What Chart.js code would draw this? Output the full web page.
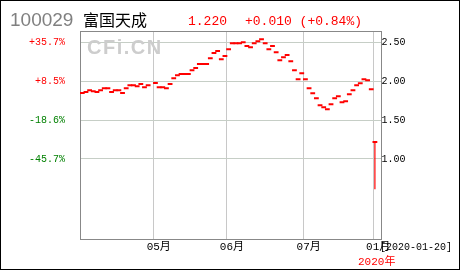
<!DOCTYPE html>
<html lang="zh">
<head>
  <meta charset="UTF-8" />
  <title>100029 富国天成</title>
  <script src="https://cdn.jsdelivr.net/npm/chart.js"></script>
  <style>
    body {
      margin: 0;
      padding: 0;
      background: #fff;
    }
    #wrap {
      width: 460px;
      height: 270px;
    }
  </style>
</head>
<body>
  <div id="wrap">
    <canvas id="navChart" width="460" height="270"></canvas>
  </div>

  <script>
    // daily NAV, one slot per trading day (null = no quote)
    const navClose = [
      1.851, 1.864, 1.886, 1.873, 1.864, 1.886, 1.912, 1.912, 1.864, 1.886,
      1.886, 1.851, 1.912, 1.951, 1.951, 1.938, 1.967, 1.925, 1.951, null,
      1.980, 1.925, 1.925, 1.912, 1.967, 2.041, 2.080, 2.096, 2.096, 2.096,
      2.144, 2.174, 2.225, 2.225, 2.225, 2.299, 2.367, 2.393, 2.286, 2.329,
      2.415, 2.492, 2.492, 2.492, 2.505, 2.457, 2.441, 2.492, 2.518, 2.544,
      2.492, 2.415, 2.457, 2.376, 2.273, 2.312, 2.341, 2.260, 2.144, 2.028,
      2.105, 2.028, 1.912, 1.847, 1.783, 1.693, 1.667, 1.641, 1.706, 1.783,
      1.809, 1.731, 1.744, 1.835, 1.886, 1.951, 1.976, 2.028, 2.015, 1.899,
      1.220
    ];
    // last day range (low to close)
    const wickLow = 0.61;
    const wickHigh = 1.22;

    const monthStarts = [19.5, 39.5, 60.5, 79.5];
    const monthLabels = ['05月', '06月', '07月', '01月'];
    const priceTicks = [1.0, 1.5, 2.0, 2.5];
    const pctLabels = ['-45.7%', '-18.6%', '+8.5%', '+35.7%'];
    const pctColors = ['#008000', '#008000', '#ff0000', '#ff0000'];

    const monoFont = "'Liberation Mono', 'Noto Sans CJK SC', monospace";
    const lastIdx = navClose.length - 1;

    const closePoints = [];
    navClose.forEach((v, i) => {
      if (v !== null) closePoints.push({ x: i, y: v });
    });

    const extras = {
      id: 'extras',
      beforeDatasetsDraw(chart) {
        const ctx = chart.ctx;
        const a = chart.chartArea;
        ctx.save();
        // watermark
        ctx.font = "bold 20px 'Liberation Sans', Arial, sans-serif";
        ctx.letterSpacing = '1.5px';
        ctx.fillStyle = '#cdcdcd';
        ctx.textBaseline = 'alphabetic';
        ctx.fillText('CFi.CN', 87, 53.5);
        ctx.letterSpacing = '0px';
        // plot frame
        ctx.strokeStyle = '#888';
        ctx.lineWidth = 1;
        ctx.strokeRect(Math.round(a.left) + 0.5, Math.round(a.top) + 0.5,
          Math.round(a.right - a.left), Math.round(a.bottom - a.top));
        ctx.restore();
      },
      afterDraw(chart) {
        const ctx = chart.ctx;
        ctx.save();
        ctx.textBaseline = 'alphabetic';
        ctx.font = "19px 'Liberation Sans', Arial, sans-serif";
        ctx.fillStyle = '#808080';
        ctx.fillText('100029', 10, 26);
        ctx.font = "16px 'Noto Sans CJK SC', sans-serif";
        ctx.fillStyle = '#000';
        ctx.fillText('富国天成', 83, 26);
        ctx.font = '13px ' + monoFont;
        ctx.fillStyle = '#ff0000';
        ctx.fillText('1.220', 188, 25);
        ctx.fillText('+0.010 (+0.84%)', 245, 25);
        // date + year under the axis
        ctx.font = '10px ' + monoFont;
        ctx.fillStyle = '#000';
        ctx.fillText('[2020-01-20]', 380, 250);
        ctx.font = '11px ' + monoFont;
        ctx.fillStyle = '#ff0000';
        ctx.fillText('2020年', 358, 265);
        // outer border
        ctx.strokeStyle = '#000';
        ctx.strokeRect(0.5, 0.5, 459, 269);
        ctx.restore();
      }
    };

    const yMin = -0.032;
    const yMax = 2.651;

    new Chart(document.getElementById('navChart'), {
      type: 'line',
      data: {
        datasets: [
          {
            data: closePoints,
            showLine: false,
            pointStyle: 'line',
            pointRadius: 2.4,
            pointHoverRadius: 2.4,
            pointBorderWidth: 2,
            pointBorderColor: '#ff0000',
            borderColor: '#ff0000'
          },
          {
            data: [{ x: lastIdx, y: wickLow }, { x: lastIdx, y: wickHigh }],
            borderColor: '#ff0000',
            borderWidth: 1.2,
            pointRadius: 0
          }
        ]
      },
      options: {
        responsive: false,
        animation: false,
        events: [],
        layout: { padding: { top: 31 } },
        plugins: {
          legend: { display: false },
          tooltip: { enabled: false }
        },
        scales: {
          x: {
            type: 'linear',
            min: -0.63,
            max: 81.53,
            afterBuildTicks: s => { s.ticks = monthStarts.map(v => ({ value: v })); },
            afterFit: s => { s.height = 31; },
            border: { display: false },
            grid: { color: '#c8c8c8', drawTicks: false },
            ticks: {
              autoSkip: false,
              maxRotation: 0,
              align: 'start',
              labelOffset: -7,
              padding: 1,
              color: '#000',
              font: { family: monoFont, size: 11 },
              callback: (v, i) => monthLabels[i]
            }
          },
          yl: {
            position: 'left',
            min: yMin,
            max: yMax,
            afterBuildTicks: s => { s.ticks = priceTicks.map(v => ({ value: v })); },
            afterFit: s => { s.width = 80; },
            border: { display: false },
            grid: { display: false },
            ticks: {
              padding: 7,
              font: { family: monoFont, size: 10 },
              color: c => pctColors[c.index],
              callback: (v, i) => pctLabels[i]
            }
          },
          y: {
            position: 'right',
            min: yMin,
            max: yMax,
            afterBuildTicks: s => { s.ticks = priceTicks.map(v => ({ value: v })); },
            afterFit: s => { s.width = 79.5; },
            border: { display: false },
            grid: { color: '#c6cec6', drawTicks: false },
            ticks: {
              padding: 1,
              color: '#000',
              font: { family: monoFont, size: 10 },
              callback: v => v.toFixed(2)
            }
          }
        }
      },
      plugins: [extras]
    });
  </script>
</body>
</html>
